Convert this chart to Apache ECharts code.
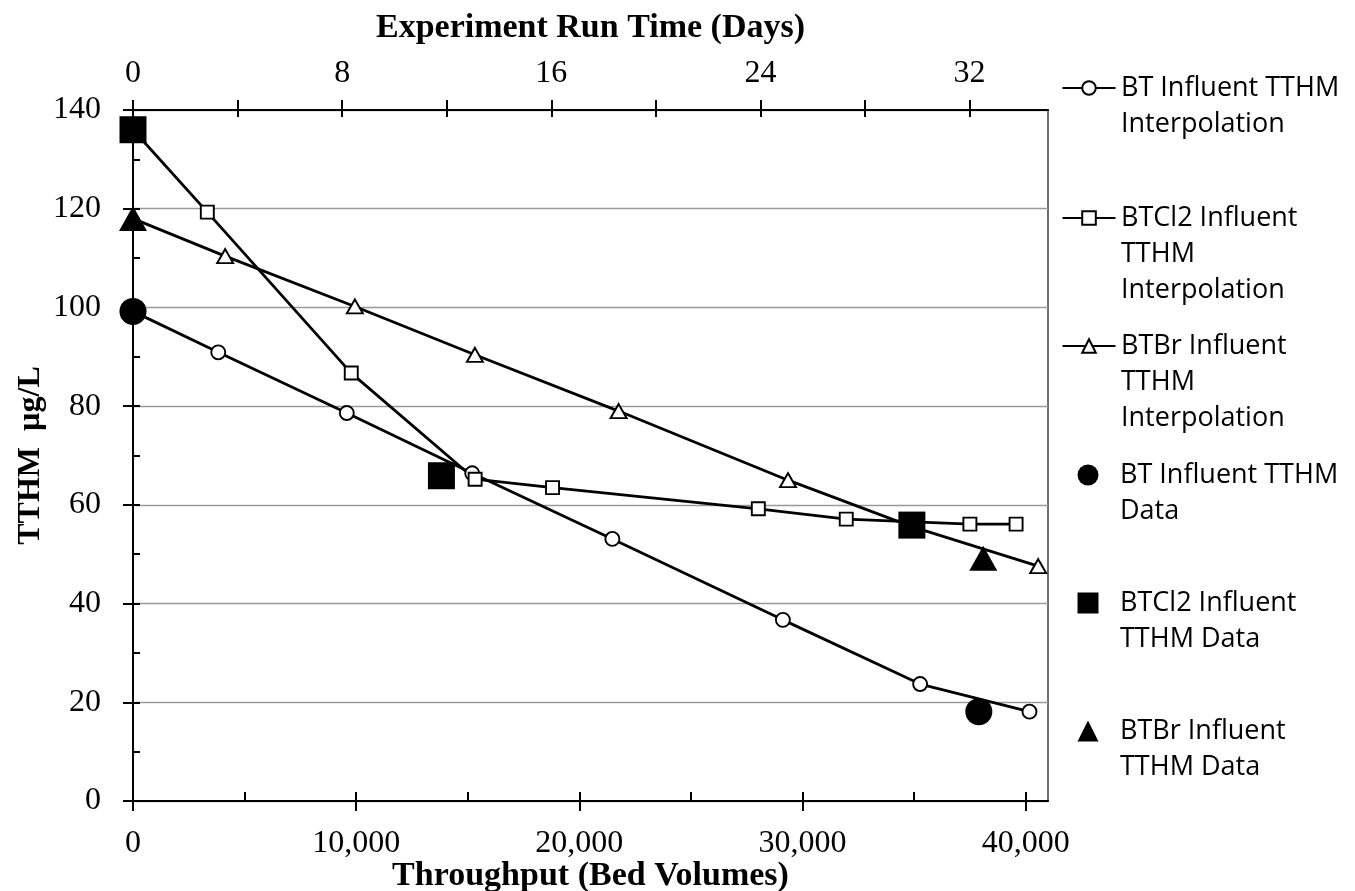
<!DOCTYPE html>
<html>
<head>
<meta charset="utf-8">
<script src="https://cdn.jsdelivr.net/npm/echarts@6/dist/echarts.min.js"></script>
<style>
html,body{margin:0;padding:0;background:#fff;}
#chart{width:1355px;height:891px;}
</style>
</head>
<body>
<div id="chart"></div>
<script>
// ---- data ----
const btInterpX = [0, 3820, 9580, 15200, 21480, 29120, 35270, 40170];
const btInterpY = [99.2, 90.9, 78.6, 66.4, 53.1, 36.7, 23.7, 18.1];

const btcl2InterpX = [0, 3330, 9780, 15330, 18800, 28020, 31960, 37500, 39570];
const btcl2InterpY = [136.0, 119.3, 86.7, 65.2, 63.5, 59.2, 57.1, 56.1, 56.1];

const btbrInterpX = [0, 4130, 9940, 15320, 21760, 29350, 34900, 40560];
const btbrInterpY = [118.0, 110.4, 100.2, 90.4, 79.0, 65.0, 55.6, 47.6];

const btDataX = [0, 37900];
const btDataY = [99.2, 18.1];

const btcl2DataX = [0, 13820, 34900];
const btcl2DataY = [136.0, 65.9, 55.9];

const btbrDataX = [0, 38100];
const btbrDataY = [118.0, 49.2];

const bottomTickLabels = [0, 10000, 20000, 30000, 40000];
const bottomMinorTicks = [0, 5000, 10000, 15000, 20000, 25000, 30000, 35000, 40000];
const topTickLabels = [0, 8, 16, 24, 32];
const topTicks = [0, 4, 8, 12, 16, 20, 24, 28, 32];

const seriesNames = [
  'BT Influent TTHM Interpolation',
  'BTCl2 Influent TTHM Interpolation',
  'BTBr Influent TTHM Interpolation',
  'BT Influent TTHM Data',
  'BTCl2 Influent TTHM Data',
  'BTBr Influent TTHM Data'
];
const legendLabels = [
  'BT Influent TTHM\nInterpolation',
  'BTCl2 Influent\nTTHM\nInterpolation',
  'BTBr Influent\nTTHM\nInterpolation',
  'BT Influent TTHM\nData',
  'BTCl2 Influent\nTTHM Data',
  'BTBr Influent\nTTHM Data'
];

const pairs = (xs, ys) => xs.map((x, i) => [x, ys[i]]);

// ---- styling ----
const SERIF = 'Liberation Serif';
const SANS = 'Open Sans';
const LH = 36;
const legendFirstLineY = [88, 218, 346, 475, 603, 731];
const legendIconCenterX = 1088;
const legendTextX = 1120;

function legendFor(i) {
  const label = legendLabels[i];
  const nLines = label.split('\n').length;
  const pad = nLines - 1; // blank lines so that the first line sits at the icon centre
  const text = '\n'.repeat(pad) + label;
  const total = pad + nLines;
  const isLine = i < 3;
  const w = isLine ? 53 : 21;
  const left = legendIconCenterX - w / 2;
  return {
    show: true,
    data: [seriesNames[i]],
    left: left,
    top: legendFirstLineY[i] - total * LH / 2,
    padding: 0,
    itemWidth: w,
    itemHeight: isLine ? 17 : 21,
    selectedMode: false,
    formatter: () => text,
    textStyle: {
      fontFamily: SANS, fontSize: 27, color: '#000', lineHeight: LH,
      padding: [0, 0, 0, legendTextX - (left + w + 5)]
    }
  };
}

const lineSeries = (name, data, symbol, size) => ({
  name, type: 'line', data, xAxisIndex: 0, yAxisIndex: 0,
  symbol, symbolSize: size, showAllSymbol: true, clip: false,
  lineStyle: { color: '#000', width: 2.8 },
  itemStyle: { color: '#fff', borderColor: '#000', borderWidth: 1.9, opacity: 1 },
  emphasis: { disabled: true }, silent: true, z: 2
});
const dataSeries = (name, data, symbol, size) => ({
  name, type: 'scatter', data, xAxisIndex: 0, yAxisIndex: 0,
  symbol, symbolSize: size, clip: false,
  itemStyle: { color: '#000', borderWidth: 0, opacity: 1 },
  emphasis: { disabled: true }, silent: true, z: 3
});

const chart = echarts.init(document.getElementById('chart'), null, { renderer: 'canvas' });
chart.setOption({
  animation: false,
  backgroundColor: '#fff',
  grid: {
    left: 133, top: 110, right: 307, bottom: 90,
    containLabel: false, outerBoundsMode: 'none',
    show: true, borderColor: '#404040', borderWidth: 1.5, backgroundColor: 'transparent'
  },
  legend: [0, 1, 2, 3, 4, 5].map(legendFor),
  xAxis: [
    {
      type: 'value', position: 'bottom', min: 0, max: 41000, interval: 10000,
      axisLine: { show: true, onZero: false, lineStyle: { color: '#000', width: 2 } },
      axisTick: { show: true, inside: false, length: 10, customValues: bottomTickLabels, lineStyle: { color: '#000', width: 2 } },
      axisLabel: { customValues: bottomTickLabels, formatter: v => Number(v).toLocaleString('en-US'), fontFamily: SERIF, fontSize: 32, color: '#000', margin: 27 },
      splitLine: { show: false },
      name: 'Throughput (Bed Volumes)', nameLocation: 'middle', nameGap: 58, nameMoveOverlap: false,
      nameTextStyle: { fontFamily: SERIF, fontWeight: 'bold', fontSize: 34, color: '#000' }
    },
    {
      type: 'value', position: 'bottom', offset: 0, min: 0, max: 41000, interval: 5000,
      axisLine: { show: false, onZero: false },
      axisTick: { show: true, inside: true, length: 9, customValues: bottomMinorTicks, lineStyle: { color: '#000', width: 2 } },
      axisLabel: { show: false }, splitLine: { show: false }
    },
    {
      type: 'value', position: 'top', offset: 0, min: 0, max: 35, interval: 4,
      axisLine: { show: true, onZero: false, lineStyle: { color: '#000', width: 2 } },
      axisTick: { show: true, inside: false, length: 10, customValues: topTicks, lineStyle: { color: '#000', width: 2 } },
      axisLabel: { customValues: topTickLabels, fontFamily: SERIF, fontSize: 32, color: '#000', margin: 20 },
      splitLine: { show: false },
      name: 'Experiment Run Time (Days)', nameLocation: 'middle', nameGap: 65, nameMoveOverlap: false,
      nameTextStyle: { fontFamily: SERIF, fontWeight: 'bold', fontSize: 34, color: '#000' }
    },
    {
      type: 'value', position: 'top', offset: 0, min: 0, max: 35, interval: 4,
      axisLine: { show: false, onZero: false },
      axisTick: { show: true, inside: true, length: 7, customValues: topTicks, lineStyle: { color: '#000', width: 2 } },
      axisLabel: { show: false }, splitLine: { show: false }
    }
  ],
  yAxis: [
    {
      type: 'value', position: 'left', min: 0, max: 140, interval: 20,
      axisLine: { show: true, onZero: false, lineStyle: { color: '#000', width: 2 } },
      axisTick: { show: true, inside: false, length: 10, lineStyle: { color: '#000', width: 2 } },
      axisLabel: { fontFamily: SERIF, fontSize: 32, color: '#000', margin: 32 },
      splitLine: { show: true, lineStyle: { color: '#9a9a9a', width: 1.3 } },
      name: 'TTHM  µg/L', nameLocation: 'middle', nameGap: 86, nameMoveOverlap: false,
      nameTextStyle: { fontFamily: SERIF, fontWeight: 'bold', fontSize: 32, color: '#000' }
    },
    {
      type: 'value', position: 'left', offset: 0, min: 0, max: 140, interval: 10,
      axisLine: { show: false, onZero: false },
      axisTick: { show: true, inside: true, length: 7, lineStyle: { color: '#000', width: 2 } },
      axisLabel: { show: false }, splitLine: { show: false }
    }
  ],
  series: [
    lineSeries(seriesNames[0], pairs(btInterpX, btInterpY), 'circle', 14),
    lineSeries(seriesNames[1], pairs(btcl2InterpX, btcl2InterpY), 'rect', 13),
    lineSeries(seriesNames[2], pairs(btbrInterpX, btbrInterpY), 'triangle', [16, 14]),
    dataSeries(seriesNames[3], pairs(btDataX, btDataY), 'circle', 27),
    dataSeries(seriesNames[4], pairs(btcl2DataX, btcl2DataY), 'rect', 27),
    dataSeries(seriesNames[5], pairs(btbrDataX, btbrDataY), 'triangle', [28, 25])
  ]
});
</script>
</body>
</html>
